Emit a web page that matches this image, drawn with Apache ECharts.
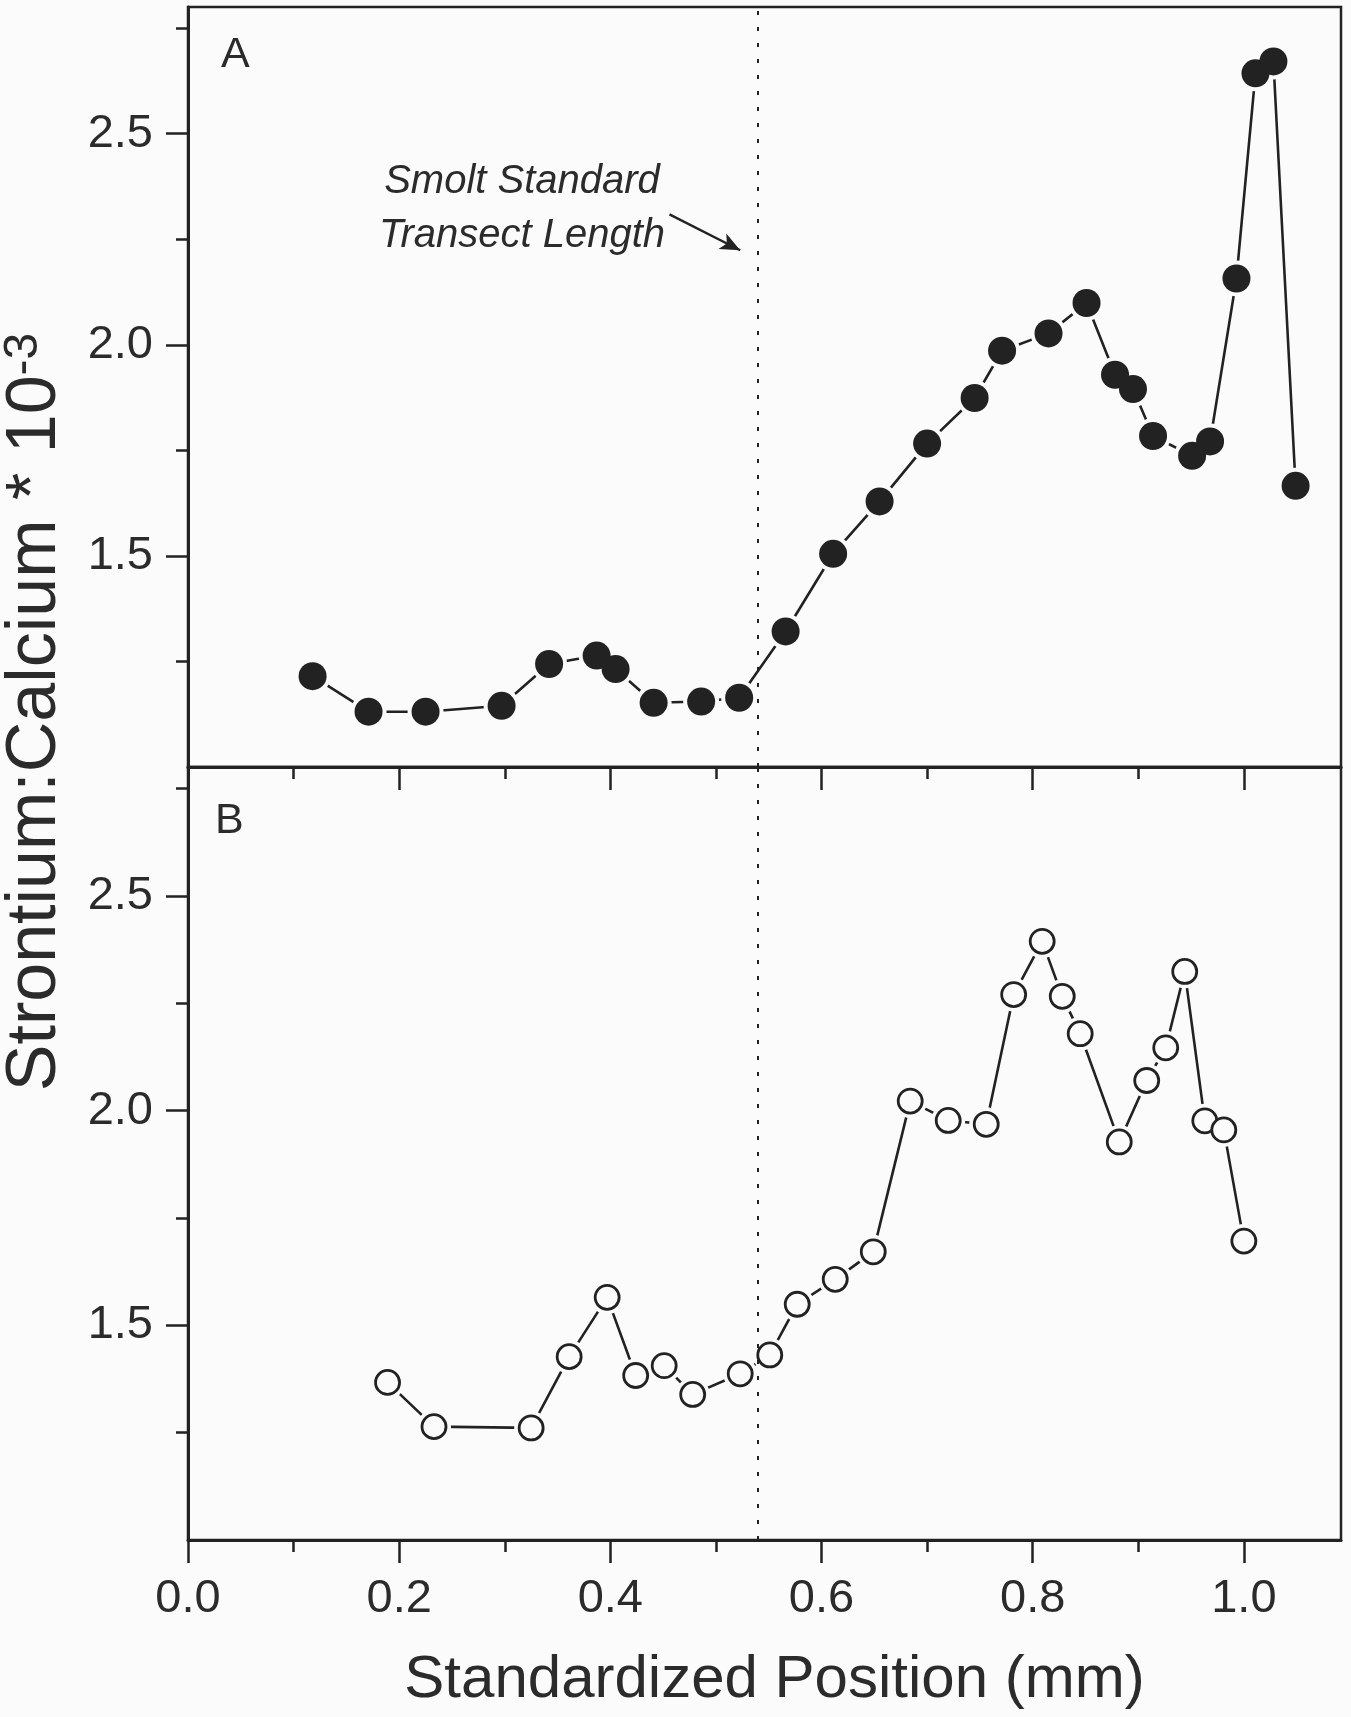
<!DOCTYPE html>
<html>
<head>
<meta charset="UTF-8">
<title>Sr:Ca transects</title>
<script src="https://cdn.jsdelivr.net/npm/echarts@6/dist/echarts.min.js"></script>
<style>
  html, body { margin: 0; padding: 0; background: #fbfbfb; }
  #main { width: 1351px; height: 1717px; }
</style>
</head>
<body>
<div id="main"></div>
<script type="text/javascript">
// panel A (filled circles)
var posA = [0.118, 0.171, 0.225, 0.297, 0.342, 0.387, 0.405, 0.441, 0.486, 0.522,
            0.566, 0.611, 0.655, 0.700, 0.745, 0.771, 0.815, 0.851, 0.878, 0.895,
            0.914, 0.951, 0.968, 0.993, 1.011, 1.028, 1.049];
var srA = [1.215, 1.131, 1.131, 1.145, 1.244, 1.264, 1.232, 1.152, 1.155, 1.164,
           1.321, 1.505, 1.629, 1.766, 1.874, 1.986, 2.027, 2.099, 1.929, 1.895,
           1.784, 1.737, 1.771, 2.157, 2.643, 2.671, 1.666];
// panel B (open circles)
var posB = [0.189, 0.233, 0.325, 0.361, 0.397, 0.424, 0.451, 0.478, 0.523, 0.551,
            0.577, 0.613, 0.649, 0.684, 0.720, 0.756, 0.782, 0.809, 0.828, 0.845,
            0.882, 0.908, 0.926, 0.944, 0.963, 0.981, 1.000];
var srB = [1.367, 1.264, 1.261, 1.427, 1.565, 1.383, 1.406, 1.339, 1.387, 1.431,
           1.549, 1.607, 1.671, 2.022, 1.977, 1.968, 2.270, 2.394, 2.266, 2.179,
           1.927, 2.070, 2.146, 2.324, 1.976, 1.955, 1.696];

var xMajor = [0, 0.2, 0.4, 0.6, 0.8, 1.0];
var xMinor = [0.1, 0.3, 0.5, 0.7, 0.9];
var yMajor = [1.5, 2.0, 2.5];
var yMinor = [1.25, 1.75, 2.25, 2.75];

var smoltX = 0.539;
var arrowFrom = [0.456, 2.309];
var arrowTo = [0.523, 2.224];

var ink = '#222';
var txt = '#2b2b2b';
var font = 'Liberation Sans, Arial, sans-serif';

function pairs(xs, ys) {
  return xs.map(function (x, i) { return [x, ys[i]]; });
}

var myChart = echarts.init(document.getElementById('main'));

function xAxisPair(grid, labels) {
  var main = {
    type: 'value', gridIndex: grid, position: 'bottom', min: 0, max: 1.092,
    splitLine: { show: false },
    axisLine: { show: true, onZero: false, lineStyle: { color: ink, width: 3 } },
    axisTick: { show: true, inside: false, length: 23, customValues: xMajor, lineStyle: { color: ink, width: 2.5 } },
    axisLabel: { show: labels, customValues: xMajor, margin: 36, fontSize: 47, color: txt, fontFamily: font,
                 formatter: function (v) { return v.toFixed(1); } }
  };
  if (labels) {
    main.name = 'Standardized Position (mm)';
    main.nameLocation = 'middle';
    main.nameGap = 110;
    main.nameTextStyle = { fontSize: 60, color: txt, fontFamily: font, verticalAlign: 'top', padding: [0, 0, 0, 20] };
  }
  var minor = {
    type: 'value', gridIndex: grid, position: 'bottom', min: 0, max: 1.092,
    splitLine: { show: false }, axisLine: { show: false, onZero: false }, axisLabel: { show: false },
    axisTick: { show: true, length: 12, customValues: xMinor, lineStyle: { color: ink, width: 2.5 } }
  };
  return [main, minor];
}

function yAxisPair(grid) {
  var main = {
    type: 'value', gridIndex: grid, position: 'left', min: 1.0, max: 2.8,
    splitLine: { show: false },
    axisLine: { show: true, onZero: false, lineStyle: { color: ink, width: 3 } },
    axisTick: { show: true, length: 22, customValues: yMajor, lineStyle: { color: ink, width: 2.5 } },
    axisLabel: { customValues: yMajor, margin: 35, fontSize: 47, color: txt, fontFamily: font,
                 formatter: function (v) { return v.toFixed(1); } }
  };
  var minor = {
    type: 'value', gridIndex: grid, position: 'left', min: 1.0, max: 2.8,
    splitLine: { show: false }, axisLine: { show: false, onZero: false }, axisLabel: { show: false },
    axisTick: { show: true, length: 12, customValues: yMinor, lineStyle: { color: ink, width: 2.5 } }
  };
  return [main, minor];
}

var dashLine = {
  silent: true, symbol: 'none', label: { show: false },
  lineStyle: { color: ink, width: 2, type: [4, 12] },
  data: [{ xAxis: smoltX }]
};

option = {
  backgroundColor: '#fbfbfb',
  animation: false,
  grid: [
    { left: 188, top: 7, width: 1153, height: 760, show: true, borderColor: ink, borderWidth: 2.5, backgroundColor: 'transparent' },
    { left: 188, top: 767, width: 1153, height: 773, show: true, borderColor: ink, borderWidth: 2.5, backgroundColor: 'transparent' }
  ],
  xAxis: xAxisPair(0, false).concat(xAxisPair(1, true)),
  yAxis: yAxisPair(0).concat(yAxisPair(1)),
  graphic: [
    { type: 'text', left: 221, top: 34, style: { text: 'A', fontSize: 43, fill: txt, fontFamily: font } },
    { type: 'text', left: 215, top: 800, style: { text: 'B', fontSize: 43, fill: txt, fontFamily: font } },
    { type: 'text', x: 522, y: 182, style: { text: 'Smolt Standard', fontSize: 40, fontStyle: 'italic', fill: txt,
      fontFamily: font, align: 'center', verticalAlign: 'middle' } },
    { type: 'text', x: 522, y: 236, style: { text: 'Transect Length', fontSize: 40, fontStyle: 'italic', fill: txt,
      fontFamily: font, align: 'center', verticalAlign: 'middle' } },
    { type: 'text', x: 36, y: 712, rotation: Math.PI / 2,
      style: { text: '{a|Strontium:Calcium * 10}{b|-3}', align: 'center', verticalAlign: 'middle', fill: txt,
        rich: {
          a: { fontSize: 70, fontFamily: font, fill: txt, lineHeight: 76 },
          b: { fontSize: 48, fontFamily: font, fill: txt, lineHeight: 76, padding: [0, 0, 24, 0] }
        } } }
  ],
  series: [
    {
      type: 'line', xAxisIndex: 0, yAxisIndex: 0, showSymbol: false, z: 2,
      lineStyle: { color: ink, width: 2.6 }, data: pairs(posA, srA), markLine: dashLine
    },
    {
      type: 'scatter', xAxisIndex: 0, yAxisIndex: 0, z: 3, symbolSize: 36,
      itemStyle: { color: '#fbfbfb', opacity: 1 }, data: pairs(posA, srA), silent: true
    },
    {
      type: 'scatter', xAxisIndex: 0, yAxisIndex: 0, z: 4, symbolSize: 28,
      itemStyle: { color: ink, opacity: 1 }, data: pairs(posA, srA),
      markLine: {
        silent: true, symbol: ['none', 'arrow'], symbolSize: [13, 20], label: { show: false },
        lineStyle: { color: ink, width: 2.4, type: 'solid' },
        data: [[{ coord: arrowFrom }, { coord: arrowTo }]]
      }
    },
    {
      type: 'line', xAxisIndex: 2, yAxisIndex: 2, showSymbol: false, z: 2,
      lineStyle: { color: ink, width: 2.6 }, data: pairs(posB, srB), markLine: dashLine
    },
    {
      type: 'scatter', xAxisIndex: 2, yAxisIndex: 2, z: 3, symbolSize: 34,
      itemStyle: { color: '#fbfbfb', opacity: 1 }, data: pairs(posB, srB), silent: true
    },
    {
      type: 'scatter', xAxisIndex: 2, yAxisIndex: 2, z: 4, symbolSize: 24,
      itemStyle: { color: '#fbfbfb', borderColor: ink, borderWidth: 2.8, opacity: 1 }, data: pairs(posB, srB)
    }
  ]
};

myChart.setOption(option);
</script>
</body>
</html>
